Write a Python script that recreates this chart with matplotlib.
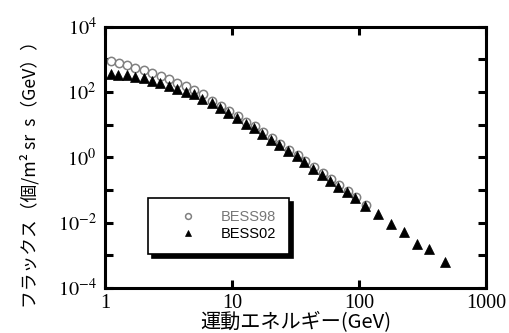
import numpy as np
import matplotlib
matplotlib.use("Agg")
import matplotlib.pyplot as plt

# energy (GeV) and flux values
bess02_energy = [1.105, 1.273, 1.482, 1.722, 2.021, 2.332, 2.725, 3.173, 3.689, 4.304,
                 4.993, 5.857, 6.92, 8.09, 9.35, 10.95, 12.78, 14.82, 17.23, 20.21,
                 23.57, 27.6, 32.3, 37.1, 43.7, 50.8, 59.4, 68.3, 80.4, 93.5,
                 112.1, 141.9, 177.7, 226.1, 284.7, 357.1, 473.0]
bess02_flux = [359, 340, 328, 291, 260, 211, 189, 156, 124, 102,
               85.6, 62.3, 45.3, 32.3, 22.4, 15.4, 10.5, 7.59, 5.08, 3.42,
               2.29, 1.53, 1.07, 0.702, 0.450, 0.295, 0.193, 0.126, 0.0844, 0.0553,
               0.0319, 0.01876, 0.0090, 0.00511, 0.00219, 0.00158, 0.000632]

bess98_energy = [1.11, 1.28, 1.49, 1.73, 2.03, 2.34, 2.74, 3.19, 3.71, 4.34,
                 5.04, 5.92, 7.0, 8.2, 9.5, 11.1, 13.0, 15.1, 17.5, 20.6,
                 24.0, 28.1, 32.9, 37.8, 44.5, 51.7, 60.5, 69.5, 81.8, 95.2, 114.0]
bess98_flux = [899, 748, 664, 556, 457, 377, 312, 252, 193, 153,
               118, 85.6, 52.1, 37.1, 25.8, 17.7, 12.1, 8.73, 5.84, 3.93,
               2.54, 1.70, 1.19, 0.779, 0.50, 0.327, 0.214, 0.140, 0.0937, 0.0614, 0.0354]

x_ticks = [1, 10, 100, 1000]
x_tick_labels = ["1", "10", "100", "1000"]
y_ticks = [1e-4, 1e-3, 1e-2, 1e-1, 1e0, 1e1, 1e2, 1e3, 1e4]
y_tick_labels = [r"$10^{-4}$", "", r"$10^{-2}$", "", r"$10^{0}$", "", r"$10^{2}$", "", r"$10^{4}$"]

plt.rcParams["font.family"] = ["Liberation Serif", "DejaVu Serif"]
plt.rcParams["mathtext.fontset"] = "stix"
jp_font = ["Noto Sans CJK JP", "DejaVu Sans"]

fig = plt.figure(figsize=(5.09, 3.33), dpi=100)
ax = fig.add_axes([0.2063, 0.1351, 0.7485, 0.7853])

ax.plot(bess98_energy, bess98_flux, linestyle="none", marker="o", markersize=6,
        markerfacecolor="white", markeredgecolor="#808080", markeredgewidth=1.1,
        label="BESS98", zorder=2)
ax.plot(bess02_energy, bess02_flux, linestyle="none", marker="^", markersize=6.5,
        markerfacecolor="black", markeredgecolor="black", markeredgewidth=0.5,
        label="BESS02", zorder=3)

ax.set_xscale("log")
ax.set_yscale("log")
ax.set_xlim(1, 1000)
ax.set_ylim(1e-4, 1e4)
ax.set_xticks(x_ticks)
ax.set_xticklabels(x_tick_labels)
ax.set_yticks(y_ticks)
ax.set_yticklabels(y_tick_labels)
ax.minorticks_off()

ax.tick_params(axis="both", which="major", direction="in", length=6, width=2.2,
               top=True, right=True, labelsize=14.5, pad=6)
ax.tick_params(axis="x", pad=4)
for spine in ax.spines.values():
    spine.set_linewidth(2.2)
    spine.set_color("black")

fig.text(0.581, 0.0, "運動エネルギー(GeV)", family=jp_font, fontsize=14.5,
         ha="center", va="bottom")
fig.text(0.058, 0.49, "フラックス（個/m² sr  s（GeV））", family=jp_font, fontsize=12.8,
         ha="center", va="center", rotation=90)

leg = ax.legend(loc="upper left", bbox_to_anchor=(0.113, 0.344),
                prop={"family": ["Liberation Sans", "DejaVu Sans"], "size": 10.5},
                frameon=True, fancybox=False, framealpha=1, edgecolor="black",
                borderpad=0.85, handlelength=3.8, handletextpad=0.35, labelspacing=0.2,
                markerscale=0.7, borderaxespad=0,
                shadow={"ox": 3, "oy": -3, "color": "black", "alpha": 1})
leg.get_frame().set_linewidth(1.2)
leg.get_texts()[0].set_color("#777777")
leg.get_texts()[1].set_color("black")

fig.savefig("out.png", dpi=100)
